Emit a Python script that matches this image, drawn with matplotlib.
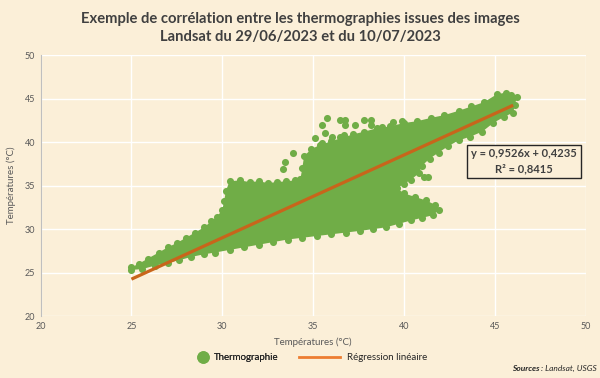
import matplotlib
matplotlib.use("Agg")
import matplotlib.pyplot as plt
from matplotlib.lines import Line2D

plt.rcParams['font.family'] = ['Lato', 'DejaVu Sans']

# ---- data ----
title = "Exemple de corrélation entre les thermographies issues des images\nLandsat du 29/06/2023 et du 10/07/2023"
xticks = [20, 25, 30, 35, 40, 45, 50]
yticks = [20, 25, 30, 35, 40, 45, 50]

# outline of the dense point cloud (upper edge, left -> right)
upper_x = [25.0, 25.4, 25.9, 26.5, 27.0, 27.5, 28.0, 28.5, 29.0, 29.4, 29.7, 30.0, 30.1, 30.2,
           30.4, 31.0, 31.5, 32.0, 32.5, 33.0, 33.5, 34.0, 34.3, 34.4, 34.5, 34.9, 35.4, 36.0,
           36.6, 37.2, 37.8, 38.5, 39.2, 40.0, 40.7, 41.5, 42.2, 43.0, 43.7, 44.4, 45.1, 45.6,
           45.9, 46.2]
upper_y = [25.6, 26.0, 26.6, 27.3, 27.9, 28.4, 29.0, 29.6, 30.2, 30.9, 31.4, 32.2, 33.2, 34.4,
           35.5, 35.6, 35.4, 35.5, 35.3, 35.4, 35.5, 35.6, 35.8, 37.0, 38.4, 39.2, 39.7, 40.1,
           40.5, 40.9, 41.2, 41.6, 41.8, 42.2, 42.4, 42.8, 43.1, 43.6, 44.1, 44.6, 45.5, 45.7,
           45.4, 45.2]
# lower edge, right -> left
lower_x = [46.1, 46.0, 45.5, 44.9, 44.3, 43.6, 43.0, 42.4, 41.9, 41.4, 41.0, 40.8, 40.4, 40.0,
           39.6, 40.0, 40.6, 41.2, 41.7, 41.9, 41.6, 41.0, 40.4, 39.7, 39.0, 38.3, 37.6, 36.8,
           36.0, 35.2, 34.4, 33.6, 32.8, 32.0, 31.2, 30.4, 29.6, 29.0, 28.3, 27.6, 27.0, 26.3,
           25.6, 25.0]
lower_y = [44.3, 43.4, 42.9, 42.2, 41.2, 40.6, 40.2, 39.5, 38.8, 38.1, 37.3, 36.4, 35.7, 35.2,
           34.7, 34.1, 33.7, 33.3, 32.8, 32.2, 31.6, 31.3, 31.0, 30.6, 30.2, 30.0, 29.8, 29.6,
           29.4, 29.2, 29.0, 28.8, 28.5, 28.2, 27.9, 27.6, 27.3, 27.1, 26.8, 26.4, 26.1, 25.8,
           25.4, 25.3]
# isolated points outside the dense cloud
out_x = [35.74, 36.46, 36.73, 35.47, 35.63, 36.02, 36.46, 35.08, 35.47, 33.87, 33.43, 33.32,
         36.73, 37.28, 37.80, 38.20, 38.20, 38.80, 39.40, 39.90, 36.70, 41.0, 41.1, 41.3]
out_y = [42.76, 42.53, 41.95, 41.95, 41.03, 40.57, 40.57, 40.46, 39.89, 38.74, 37.70, 36.90,
         42.60, 41.95, 42.50, 42.50, 41.95, 41.70, 42.30, 42.40, 40.80, 38.3, 36.0, 36.0]

slope, intercept = 0.9526, 0.4235
line_x = [25.0, 46.0]
equation = "y = 0,9526x + 0,4235\nR² = 0,8415"
legend_labels = ['Thermographie', 'Régression linéaire']

# ---- styles ----
bg = '#FBEFD8'
green = '#70AD47'
orange = '#C8651B'
txt = '#595959'

fig = plt.figure(figsize=(6, 3.78), dpi=100, facecolor=bg)
ax = fig.add_axes([0.0675, 0.164, 0.909, 0.690])
ax.set_facecolor(bg)
ax.set_xlim(20, 50)
ax.set_ylim(20, 50)
ax.set_xticks(xticks)
ax.set_yticks(yticks)
ax.grid(True, color='white', linewidth=1.0)
ax.set_axisbelow(True)
for s in ['top', 'right', 'bottom']:
    ax.spines[s].set_visible(False)
ax.spines['left'].set_color('#BFBFBF')
ax.spines['left'].set_linewidth(0.8)
ax.tick_params(length=0, labelsize=6.5, colors=txt, pad=4)

# dense cloud
poly_x = upper_x + lower_x
poly_y = upper_y + lower_y
ax.fill(poly_x, poly_y, color=green, linewidth=0, zorder=2)
ax.scatter(poly_x, poly_y, s=26, color=green, linewidths=0, zorder=2)
ax.scatter(out_x, out_y, s=26, color=green, linewidths=0, zorder=2)

# regression line
line_y = [slope * v + intercept for v in line_x]
ax.plot(line_x, line_y, color=orange, linewidth=2.3, solid_capstyle='butt', zorder=3)

ax.text(46.6, 37.8, equation, ha='center', va='center', fontsize=8, fontweight='bold',
        color='#404040', linespacing=1.4,
        bbox=dict(boxstyle='square,pad=0.35', facecolor=bg, edgecolor='#262626', linewidth=1.0),
        zorder=5)

ax.set_xlabel("Températures (°C)", fontsize=7, color=txt, labelpad=5)
ax.set_ylabel("Températures (°C)", fontsize=7, color=txt, labelpad=6)

fig.text(0.5, 0.925, title, ha='center', va='center', fontsize=10.6, fontweight='bold',
         color='#404040', linespacing=1.35)

h1 = Line2D([], [], marker='o', linestyle='none', markersize=8, color=green)
h2 = Line2D([], [], color='#ED7D31', linewidth=2)
leg1 = fig.legend([h1], [legend_labels[0]], loc='center left', bbox_to_anchor=(197 / 600, 0.053),
                  frameon=False, fontsize=7, handlelength=1.2, handletextpad=0.5, borderpad=0,
                  borderaxespad=0, labelcolor='#262626')
fig.add_artist(leg1)
fig.legend([h2], [legend_labels[1]], loc='center left', bbox_to_anchor=(299 / 600, 0.053),
           frameon=False, fontsize=7, handlelength=4.2, handletextpad=0.7, borderpad=0,
           borderaxespad=0, labelcolor='#262626')

t1 = fig.text(0.995, 0.015, " : Landsat, USGS", ha='right', va='bottom', fontsize=6,
              style='italic', color='#262626')
fig.canvas.draw()
bb = t1.get_window_extent()
fig.text(bb.x0 / fig.bbox.width, 0.015, "Sources", ha='right', va='bottom', fontsize=6,
         style='italic', fontweight='bold', color='#262626')

fig.savefig('out.png', dpi=100, facecolor=bg)
